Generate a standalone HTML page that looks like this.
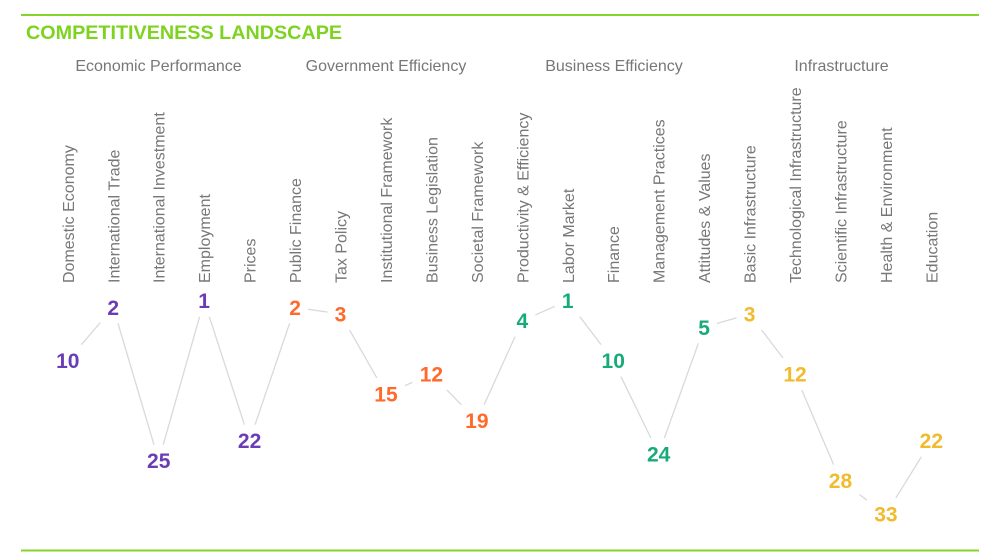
<!DOCTYPE html>
<html>
<head>
<meta charset="utf-8">
<style>
html,body{margin:0;padding:0;background:#fff;}
svg{display:block;font-family:"Liberation Sans",Arial,sans-serif;}
</style>
</head>
<body>
<svg width="1002" height="556" viewBox="0 0 1002 556" xmlns="http://www.w3.org/2000/svg">
<rect width="1002" height="556" fill="#fff"/>
<line x1="21" y1="15" x2="979" y2="15" stroke="#84d42a" stroke-width="2"/>
<line x1="21" y1="550.5" x2="979" y2="550.5" stroke="#84d42a" stroke-width="2"/>
<text x="26" y="39" font-size="19.75" font-weight="bold" fill="#7ed321">COMPETITIVENESS LANDSCAPE</text>

<g font-size="16" fill="#777" text-anchor="middle">
<text x="158.5" y="71">Economic Performance</text>
<text x="386" y="71">Government Efficiency</text>
<text x="614" y="71">Business Efficiency</text>
<text x="841.5" y="71">Infrastructure</text>
</g>

<g font-size="16" fill="#777">
<text transform="translate(73.8,283) rotate(-90)">Domestic Economy</text>
<text transform="translate(119.25,283) rotate(-90)">International Trade</text>
<text transform="translate(164.7,283) rotate(-90)">International Investment</text>
<text transform="translate(210.15,283) rotate(-90)">Employment</text>
<text transform="translate(255.6,283) rotate(-90)">Prices</text>
<text transform="translate(301.05,283) rotate(-90)">Public Finance</text>
<text transform="translate(346.5,283) rotate(-90)">Tax Policy</text>
<text transform="translate(391.95,283) rotate(-90)">Institutional Framework</text>
<text transform="translate(437.4,283) rotate(-90)">Business Legislation</text>
<text transform="translate(482.85,283) rotate(-90)">Societal Framework</text>
<text transform="translate(528.3,283) rotate(-90)">Productivity &amp; Efficiency</text>
<text transform="translate(573.75,283) rotate(-90)">Labor Market</text>
<text transform="translate(619.2,283) rotate(-90)">Finance</text>
<text transform="translate(664.65,283) rotate(-90)">Management Practices</text>
<text transform="translate(710.1,283) rotate(-90)">Attitudes &amp; Values</text>
<text transform="translate(755.55,283) rotate(-90)">Basic Infrastructure</text>
<text transform="translate(801,283) rotate(-90)">Technological Infrastructure</text>
<text transform="translate(846.45,283) rotate(-90)">Scientific Infrastructure</text>
<text transform="translate(891.9,283) rotate(-90)">Health &amp; Environment</text>
<text transform="translate(937.35,283) rotate(-90)">Education</text>
</g>

<polyline fill="none" stroke="#d9d9d9" stroke-width="1.3" points="67.8,360.7 113.25,307.3 158.7,460.7 204.15,300.7 249.6,440.7 295.05,307.3 340.5,314 385.95,394 431.4,374 476.85,420.7 522.3,320.7 567.75,300.7 613.2,360.7 658.65,454 704.1,327.3 749.55,314 795,374 840.45,480.7 885.9,514 931.35,440.7"/>

<g fill="#fff">
<rect x="48.8" y="344.7" width="38" height="32"/>
<rect x="100.25" y="291.3" width="26" height="32"/>
<rect x="139.7" y="444.7" width="38" height="32"/>
<rect x="191.15" y="284.7" width="26" height="32"/>
<rect x="230.6" y="424.7" width="38" height="32"/>
<rect x="282.05" y="291.3" width="26" height="32"/>
<rect x="327.5" y="298" width="26" height="32"/>
<rect x="366.95" y="378" width="38" height="32"/>
<rect x="412.4" y="358" width="38" height="32"/>
<rect x="457.85" y="404.7" width="38" height="32"/>
<rect x="509.3" y="304.7" width="26" height="32"/>
<rect x="554.75" y="284.7" width="26" height="32"/>
<rect x="594.2" y="344.7" width="38" height="32"/>
<rect x="639.65" y="438" width="38" height="32"/>
<rect x="691.1" y="311.3" width="26" height="32"/>
<rect x="736.55" y="298" width="26" height="32"/>
<rect x="776" y="358" width="38" height="32"/>
<rect x="821.45" y="464.7" width="38" height="32"/>
<rect x="866.9" y="498" width="38" height="32"/>
<rect x="912.35" y="424.7" width="38" height="32"/>
</g>

<g font-size="21" font-weight="bold" text-anchor="middle">
<g fill="#6a3db5">
<text x="67.8" y="368.2">10</text>
<text x="113.25" y="314.8">2</text>
<text x="158.7" y="468.2">25</text>
<text x="204.15" y="308.2">1</text>
<text x="249.6" y="448.2">22</text>
</g>
<g fill="#ff6a2b">
<text x="295.05" y="314.8">2</text>
<text x="340.5" y="321.5">3</text>
<text x="385.95" y="401.5">15</text>
<text x="431.4" y="381.5">12</text>
<text x="476.85" y="428.2">19</text>
</g>
<g fill="#19aa7b">
<text x="522.3" y="328.2">4</text>
<text x="567.75" y="308.2">1</text>
<text x="613.2" y="368.2">10</text>
<text x="658.65" y="461.5">24</text>
<text x="704.1" y="334.8">5</text>
</g>
<g fill="#f0bb2c">
<text x="749.55" y="321.5">3</text>
<text x="795" y="381.5">12</text>
<text x="840.45" y="488.2">28</text>
<text x="885.9" y="521.5">33</text>
<text x="931.35" y="448.2">22</text>
</g>
</g>
</svg>
</body>
</html>
